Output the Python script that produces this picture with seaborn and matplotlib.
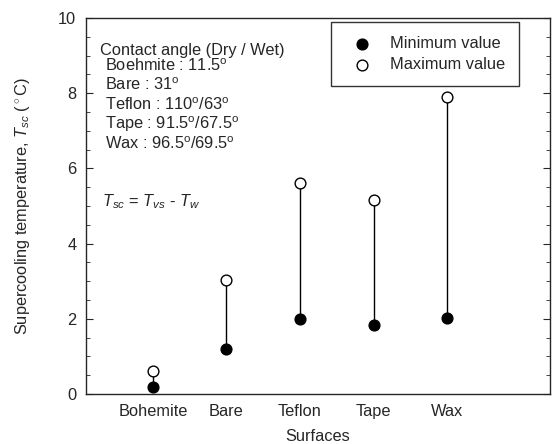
import matplotlib
matplotlib.use("Agg")
import matplotlib.pyplot as plt
import seaborn as sns
import pandas as pd
import numpy as np
from matplotlib.ticker import MultipleLocator

surfaces = ["Bohemite", "Bare", "Teflon", "Tape", "Wax"]
min_values = [0.19, 1.20, 2.00, 1.83, 2.03]
max_values = [0.62, 3.03, 5.60, 5.16, 7.91]

sns.set_style("ticks")
plt.rcParams["font.family"] = ["Liberation Sans", "DejaVu Sans"]
plt.rcParams["mathtext.fontset"] = "custom"
plt.rcParams["mathtext.rm"] = "Liberation Sans"
plt.rcParams["mathtext.it"] = "Liberation Sans:italic"
plt.rcParams["font.size"] = 11.8

df = pd.DataFrame({"Surface": surfaces, "min": min_values, "max": max_values})
df["pos"] = np.arange(len(surfaces))

fig = plt.figure(figsize=(5.56, 4.44), dpi=100)
ax = fig.add_axes([86 / 556, 1 - 394 / 444, (550 - 86) / 556, (394 - 18) / 444])

ax.vlines(df["pos"], df["min"], df["max"], color="black", linewidth=1, zorder=1)
sns.scatterplot(data=df, x="pos", y="min", ax=ax, color="black", edgecolor="black",
                s=60, linewidth=1, zorder=3, label="Minimum value")
sns.scatterplot(data=df, x="pos", y="max", ax=ax, color="white", edgecolor="black",
                s=60, linewidth=1, zorder=3, label="Maximum value")

ax.set_xlim(-0.91, 5.4)
ax.set_ylim(0, 10)
ax.set_xticks(df["pos"])
ax.set_xticklabels(surfaces)
ax.tick_params(axis="x", length=0, pad=7)
ax.yaxis.set_major_locator(MultipleLocator(2))
ax.yaxis.set_minor_locator(MultipleLocator(0.5))
ax.tick_params(axis="y", which="both", direction="in", right=True, left=True, pad=7)
ax.tick_params(axis="y", which="major", length=5)
ax.tick_params(axis="y", which="minor", length=3)
for s in ax.spines.values():
    s.set_linewidth(1)

ax.set_xlabel("Surfaces")
ax.set_ylabel(r"Supercooling temperature, $\mathit{T}_{sc}$ ($^\circ$C)")
ax.xaxis.set_label_coords(0.5, -0.093)
ax.yaxis.set_label_coords(-0.116, 0.5)

leg = ax.legend(loc="upper right", frameon=True, fancybox=False, edgecolor="black",
                borderpad=0.85, labelspacing=0.36, handletextpad=0.72, borderaxespad=0,
                bbox_to_anchor=(0.933, 0.989))
leg.get_frame().set_linewidth(1)

deg = r"$^\mathrm{o}$"
ax.text(0.030, 0.902, "Contact angle (Dry / Wet)", transform=ax.transAxes, va="baseline")
lines = [f"Boehmite : 11.5{deg}", f"Bare : 31{deg}", f"Teflon : 110{deg}/63{deg}",
         f"Tape : 91.5{deg}/67.5{deg}", f"Wax : 96.5{deg}/69.5{deg}"]
for i, t in enumerate(lines):
    ax.text(0.041, 0.860 - i * 0.052, t, transform=ax.transAxes, va="baseline")
ax.text(0.034, 0.498, r"$\mathit{T}_{sc}$ = $\mathit{T}_{vs}$ - $\mathit{T}_{w}$",
        transform=ax.transAxes, va="baseline")

fig.savefig("out.png", dpi=100)
